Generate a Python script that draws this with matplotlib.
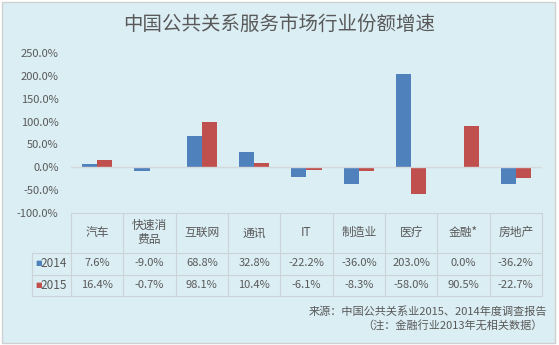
import matplotlib.pyplot as plt
from matplotlib.patches import Rectangle
from matplotlib.lines import Line2D

plt.rcParams['font.family'] = ['Noto Sans CJK SC', 'DejaVu Sans']

# 行业与增速数据
categories = ['汽车', '快速消\n费品', '互联网', '通讯', 'IT', '制造业', '医疗', '金融*', '房地产']
series_names = ['2014', '2015']
growth_2014 = [7.6, -9.0, 68.8, 32.8, -22.2, -36.0, 203.0, 0.0, -36.2]
growth_2015 = [16.4, -0.7, 98.1, 10.4, -6.1, -8.3, -58.0, 90.5, -22.7]
yticks = [-100, -50, 0, 50, 100, 150, 200, 250]

bg = '#DBEEF4'
blue = '#4F81BD'
red = '#C0504D'
grid_c = '#C9D3D8'
txt = '#595959'

W, H = 559, 345
fig = plt.figure(figsize=(W / 100, H / 100), dpi=100)
fig.patch.set_facecolor('white')
fig.add_artist(Rectangle((2 / W, 2 / H), 553 / W, 341 / H, transform=fig.transFigure,
                         facecolor=bg, edgecolor='#D0D0D0', linewidth=1, zorder=-10))

# 绘图区
left, right, top, bottom = 71, 542, 53, 213
ax = fig.add_axes([left / W, 1 - bottom / H, (right - left) / W, (bottom - top) / H])
ax.patch.set_alpha(0)
for s in ax.spines.values():
    s.set_visible(False)

n = len(categories)
x = list(range(n))
w = 0.29
ax.bar([i - w / 2 for i in x], growth_2014, width=w, color=blue, zorder=2)
ax.bar([i + w / 2 for i in x], growth_2015, width=w, color=red, zorder=2)
ax.axhline(0, color='#D4D9DC', linewidth=1, zorder=3)

ax.set_xlim(-0.5, n - 0.5)
ax.set_ylim(-100, 250)
ax.set_yticks(yticks)
ax.set_yticklabels([f'{v:.1f}%' for v in yticks])
ax.tick_params(axis='y', length=0, pad=9, labelsize=8, labelcolor=txt)
ax.set_xticks([])

fig.text(0.5, 1 - 24 / H, '中国公共关系服务市场行业份额增速', ha='center', va='center',
         fontsize=14, color=txt)

# 数据表
trans = ax.get_xaxis_transform()
ph = bottom - top


def ay(py):
    return (bottom - py) / ph


row_edges = [213, 252.5, 274.5, 296]
legend_left = -0.5 - (left - 32) / ((right - left) / n)
lw = 0.8

for k, py in enumerate(row_edges):
    x0 = -0.5 if k == 0 else legend_left
    ax.add_line(Line2D([x0, n - 0.5], [ay(py)] * 2, transform=trans, color=grid_c,
                       linewidth=lw, clip_on=False))
for j in range(n + 1):
    ax.add_line(Line2D([j - 0.5] * 2, [ay(213), ay(296)], transform=trans, color=grid_c,
                       linewidth=lw, clip_on=False))
ax.add_line(Line2D([legend_left] * 2, [ay(252.5), ay(296)], transform=trans, color=grid_c,
                   linewidth=lw, clip_on=False))

hdr_y = ay((213 + 252.5) / 2)
for i, c in enumerate(categories):
    ax.text(i, hdr_y, c, transform=trans, ha='center', va='center', fontsize=8.5,
            color=txt, linespacing=1.1, clip_on=False)

for vals, name, color, (y0, y1) in [(growth_2014, series_names[0], blue, (252.5, 274.5)),
                                     (growth_2015, series_names[1], red, (274.5, 296))]:
    yc = ay((y0 + y1) / 2)
    for i, v in enumerate(vals):
        ax.text(i, yc, f'{v:.1f}%', transform=trans, ha='center', va='center',
                fontsize=8, color=txt, clip_on=False)
    ax.text(legend_left + 0.07, yc, '■', transform=trans, ha='left', va='center',
            fontsize=5, color=color, clip_on=False, family='DejaVu Sans')
    ax.text(legend_left + 0.17, yc, name, transform=trans, ha='left', va='center',
            fontsize=8.5, color=txt, clip_on=False)

fig.text(547 / W, 1 - 312 / H, '来源：中国公共关系业2015、2014年度调查报告', ha='right',
         va='center', fontsize=8, color=txt)
fig.text(543 / W, 1 - 325.5 / H, '（注：金融行业2013年无相关数据）', ha='right',
         va='center', fontsize=8, color=txt)

fig.savefig('out.png', dpi=100, facecolor=fig.get_facecolor())
